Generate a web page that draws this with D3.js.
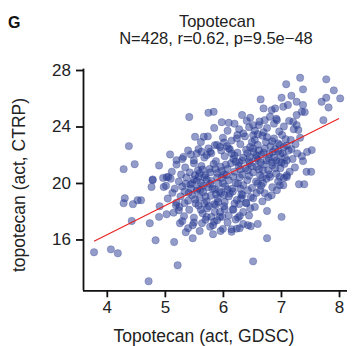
<!DOCTYPE html>
<html>
<head>
<meta charset="utf-8">
<script src="https://cdn.jsdelivr.net/npm/d3@7"></script>
<style>
  body { margin: 0; background: #fff; }
  text { font-family: "Liberation Sans", Arial, sans-serif; }
</style>
</head>
<body>
<div id="chart"></div>
<script>
// x = GDSC activity, y = CTRP activity
var outerPoints = [
  [3.78,15.09],[4.07,15.30],[4.19,15.02],[4.72,13.04],[5.22,14.17],[4.84,15.94],[5.16,15.82],
  [4.38,22.61],[4.29,20.98],[4.48,21.33],[4.31,18.92],[4.29,18.57],[4.45,18.50],[4.53,18.78],
  [4.59,18.78],[4.43,17.31],[4.90,17.60],[4.74,17.15],[4.79,20.20],[4.77,19.72],[4.98,19.72],
  [5.03,20.41],[4.91,18.35],[5.03,17.79],[5.19,18.43],[5.24,18.07],[5.34,18.57],[5.48,16.09],
  [5.36,16.51],[5.48,17.01],[5.26,17.15],[6.52,14.45],[6.76,16.09],[7.01,17.60],[6.76,18.02],
  [5.83,16.37],[5.96,16.60],[6.15,16.72],[6.24,16.77],[6.29,16.80],[6.43,17.01],[6.48,16.94],
  [6.60,17.10],[6.22,17.41],[6.29,17.67],[5.83,17.01],[5.90,17.36],[5.95,17.60],[5.64,17.15],
  [5.72,17.60],[6.47,18.21],[6.40,18.57],[6.28,18.50],[6.17,18.14],[6.03,18.14],[5.86,17.95],
  [7.31,19.91],[7.40,19.91],[7.44,20.79],[7.52,20.79],[6.98,20.43],[7.10,20.43],[6.98,19.84],
  [7.04,19.84],[6.81,20.43],[6.93,19.49],[6.84,19.13],[6.72,19.28],[6.64,19.49],[6.69,19.99],
  [6.60,19.99],[6.43,19.49],[6.34,19.13],[6.52,18.92],[6.31,18.92],
  [7.33,27.45],[7.09,26.99],[7.38,26.63],[7.78,27.34],[7.91,26.56],[8.02,25.99],[7.70,25.75],
  [7.78,26.04],[7.82,25.35],[7.73,24.45],[7.01,26.04],[7.18,26.18],[6.65,25.92],[7.27,25.75],
  [7.12,25.52],[7.04,25.40],[7.38,25.52],[7.36,25.04],[7.41,25.02],[7.27,24.81],[7.21,24.33],
  [6.90,25.28],[6.84,25.16],[6.70,25.28],[6.81,24.69],[6.72,24.45],[6.93,24.45],[7.27,24.10],
  [5.75,24.97],[5.84,25.04],[6.33,24.81],[6.47,24.62],[6.10,24.26],[6.52,24.10],[6.62,24.10],
  [5.67,23.27],[6.35,23.51],[6.52,23.39],[6.24,23.16],[6.02,22.87],[5.86,22.68],[6.12,22.38],
  [5.78,22.21],[7.53,22.33],[7.38,21.55],[7.01,21.45],[6.69,20.91],[7.10,20.55],
  [5.42,24.67],[5.52,23.27],[4.90,21.24],[5.09,22.02],[5.20,21.62],[5.32,21.85],[5.45,22.02],
  [5.55,22.09],[5.63,22.21],[5.72,21.97],[4.79,20.25],[4.97,20.36],[5.06,20.43]
];

var corePoints = [
  [5.85,23.9],[5.98,24.3],[6.08,23.7],[6.2,24.2],[6.28,23.8],[6.41,24.4],[6.55,23.7],[6.63,24.35],
  [6.76,23.9],[6.88,24.2],[6.97,23.65],[7.05,24.0],[7.14,24.4],[7.22,23.8],[6.45,23.95],[6.7,23.6],
  [6.92,24.55],[7.3,23.75],
  [5.62,22.9],[5.74,23.3],[5.9,22.7],[6.0,23.2],[6.07,22.6],[6.15,23.0],[6.3,22.75],[6.38,23.3],
  [6.47,22.55],[6.55,23.05],[6.6,22.7],[6.68,23.35],[6.74,22.9],[6.82,22.6],[6.88,23.15],[6.95,22.8],
  [7.02,23.4],[7.1,22.65],[7.17,23.05],[7.25,22.75],[7.33,23.2],[6.25,23.4],[6.5,22.9],[6.85,22.95],
  [7.05,22.55],[5.95,22.55],
  [5.3,21.7],[5.4,22.3],[5.5,21.6],[5.58,22.4],[5.68,21.8],[5.8,22.1],[5.88,21.55],[5.97,22.3],
  [6.03,21.9],[6.1,22.45],[6.18,21.7],[6.25,22.15],[6.33,21.6],[6.4,22.35],[6.46,21.85],[6.53,22.2],
  [6.6,21.65],[6.66,22.0],[6.72,22.45],[6.79,21.75],[6.86,22.2],[6.92,21.6],[6.99,22.05],[7.07,21.8],
  [7.13,22.3],[7.2,21.7],[7.28,22.1],[7.36,21.9],[7.45,22.2],[6.2,21.95],[6.57,21.75],[6.9,22.4],
  [5.75,22.45],[6.45,21.55],
  [5.12,20.8],[5.2,21.3],[5.28,20.6],[5.35,21.1],[5.43,20.75],[5.5,21.4],[5.57,20.9],[5.63,21.2],
  [5.7,20.55],[5.77,21.0],[5.84,21.35],[5.9,20.7],[5.96,21.15],[6.02,20.6],[6.08,21.0],[6.14,21.4],
  [6.2,20.8],[6.27,21.2],[6.33,20.6],[6.39,21.05],[6.46,21.4],[6.52,20.75],[6.58,21.15],[6.64,20.55],
  [6.71,21.3],[6.78,20.9],[6.85,21.25],[6.92,20.65],[6.99,21.05],[7.06,21.35],[7.15,20.8],[7.24,21.1],
  [5.65,20.95],[6.05,21.3],[6.43,20.9],[6.8,20.6],[5.98,20.85],
  [5.02,19.8],[5.1,20.3],[5.17,19.6],[5.24,20.1],[5.3,19.75],[5.37,20.4],[5.44,19.9],[5.5,20.25],
  [5.56,19.6],[5.62,20.0],[5.68,20.4],[5.74,19.7],[5.8,20.15],[5.86,19.55],[5.92,19.95],[5.98,20.35],
  [6.04,19.75],[6.1,20.2],[6.16,19.6],[6.22,20.0],[6.29,20.4],[6.35,19.85],[6.42,20.2],[6.5,19.65],
  [6.57,20.1],[6.66,19.8],[6.75,20.3],[6.85,19.7],[6.95,20.1],[7.05,20.35],[5.45,19.6],[5.78,19.95],
  [6.08,19.55],[5.58,20.45],[6.3,19.6],
  [5.05,18.9],[5.13,19.3],[5.2,18.6],[5.27,19.05],[5.34,19.4],[5.4,18.75],[5.47,19.15],[5.53,18.55],
  [5.6,18.95],[5.66,19.35],[5.72,18.7],[5.79,19.1],[5.85,18.5],[5.91,18.9],[5.97,19.3],[6.03,18.65],
  [6.1,19.05],[6.17,19.4],[6.24,18.8],[6.32,19.2],[6.4,18.6],[6.48,19.0],[6.58,19.3],[6.68,18.7],
  [6.78,19.0],[5.55,19.45],[5.88,19.2],[6.2,18.55],
  [5.15,17.9],[5.25,18.3],[5.33,17.65],[5.42,18.1],[5.5,17.55],[5.58,18.4],[5.65,17.85],[5.73,18.2],
  [5.8,17.6],[5.88,18.45],[5.95,17.95],[6.02,18.35],[6.1,17.7],[6.18,18.1],[6.26,17.55],[6.35,17.95],
  [6.45,17.7],[6.55,18.3],[5.62,18.1],[5.99,17.6],
  [5.3,17.3],[5.4,16.8],[5.5,17.2],[5.6,16.6],[5.7,17.4],[5.78,16.9],[5.85,17.25],[6.0,16.75],
  [6.08,17.2],[6.15,16.55],[6.35,17.1]
];

// extra overlapping points in the two darkest clumps
var clumpPoints = [
  [5.52,20.55],[5.6,20.7],[5.55,20.15],[5.66,19.8],[5.72,20.25],[5.47,20.0],[5.61,19.5],[5.7,19.05],
  [5.82,19.6],[5.9,20.4],[5.94,19.4],[6.0,20.0],[6.06,20.55],[5.78,20.75],[5.87,21.0],[5.41,19.3],
  [5.36,19.95],[5.52,18.85],[6.12,19.25],[6.18,20.45],[6.26,19.95],[6.02,19.15],[5.68,18.55],
  [5.76,18.35],[5.92,18.65],
  [6.52,22.45],[6.62,22.3],[6.7,22.15],[6.58,21.95],[6.8,22.05],[6.88,21.8],[6.95,22.25],[6.65,21.45],
  [6.75,21.6],[6.84,21.45],[6.97,21.5],[7.03,22.1],[6.5,21.2],[6.62,20.95],[6.9,21.05],[7.1,21.6],
  [6.42,22.1],[6.35,21.8],[6.28,21.45],[6.98,22.7],[6.76,23.25],[6.6,23.45],[7.08,23.1],[7.18,22.4],
  [6.68,20.4],[6.45,20.5],[6.3,20.95],[6.22,21.5],[6.15,22.1]
];

// fitted line
var fitLine = [[3.78,15.88],[8.0,24.57]];

var xTicks = [4, 5, 6, 7, 8];
var yTicks = [16, 20, 24, 28];

var w = 352, h = 346;
var svg = d3.select("#chart").append("svg")
  .attr("width", w)
  .attr("height", h);

var x = d3.scaleLinear().domain([3.59, 8.12]).range([83, 346]);
var y = d3.scaleLinear().domain([12.4, 28.1]).range([290.3, 68.6]);

var points = outerPoints.concat(corePoints, clumpPoints);

svg.append("g").selectAll("circle")
  .data(points)
  .enter()
  .append("circle")
  .attr("cx", function(d) { return x(d[0]); })
  .attr("cy", function(d) { return y(d[1]); })
  .attr("r", 3.7)
  .attr("fill", "rgb(40,58,145)")
  .attr("fill-opacity", 0.5)
  .attr("stroke", "rgb(40,58,145)")
  .attr("stroke-opacity", 0.35)
  .attr("stroke-width", 0.8);

svg.append("path")
  .datum(fitLine)
  .attr("d", d3.line().x(function(d) { return x(d[0]); }).y(function(d) { return y(d[1]); }))
  .attr("stroke", "#e8201f")
  .attr("stroke-width", 1.1)
  .attr("fill", "none");

// axes
var xAxis = svg.append("g")
  .attr("transform", "translate(0,290.3)")
  .call(d3.axisBottom(x).tickValues(xTicks).tickFormat(d3.format("d")).tickSize(7).tickPadding(4));
var yAxis = svg.append("g")
  .attr("transform", "translate(83,0)")
  .call(d3.axisLeft(y).tickValues(yTicks).tickFormat(d3.format("d")).tickSize(7).tickPadding(5));

[xAxis, yAxis].forEach(function(a) {
  a.select(".domain").attr("stroke", "#111").attr("stroke-width", 1.8);
  a.selectAll(".tick line").attr("stroke", "#111").attr("stroke-width", 1.8);
  a.selectAll(".tick text")
    .attr("font-family", "Liberation Sans, Arial, sans-serif")
    .attr("font-size", 17)
    .attr("fill", "#222");
});
// plain L-shaped axes, no outer tick ends
xAxis.select(".domain").attr("d", "M83,0.5H347");
yAxis.select(".domain").attr("d", "M0.5,290.3V68.6");

// titles
svg.append("text").text("G")
  .attr("x", 8).attr("y", 28)
  .attr("font-size", 16).attr("font-weight", "bold").attr("fill", "#111");

svg.append("text").text("Topotecan")
  .attr("x", 217).attr("y", 27)
  .attr("text-anchor", "middle").attr("font-size", 16.5).attr("fill", "#222");

svg.append("text").text("N=428, r=0.62, p=9.5e\u221248")
  .attr("x", 216).attr("y", 44)
  .attr("text-anchor", "middle").attr("font-size", 16.5).attr("fill", "#222");

svg.append("text").text("Topotecan (act, GDSC)")
  .attr("x", 204).attr("y", 342)
  .attr("text-anchor", "middle").attr("font-size", 17.5).attr("fill", "#222");

svg.append("text").text("topotecan (act, CTRP)")
  .attr("transform", "translate(25,185) rotate(-90)")
  .attr("text-anchor", "middle").attr("font-size", 17.5).attr("fill", "#222");
</script>
</body>
</html>
